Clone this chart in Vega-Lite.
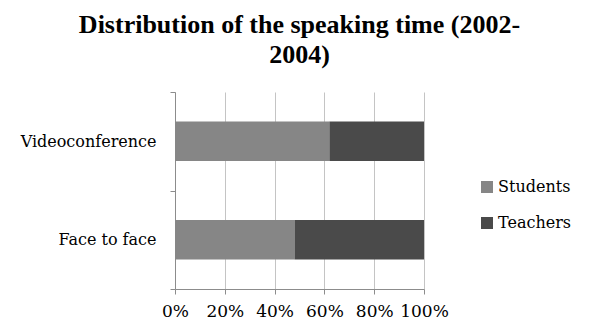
{
  "$schema": "https://vega.github.io/schema/vega-lite/v6.json",
  "width": 249,
  "height": 197,
  "autosize": {"type": "none"},
  "padding": {"left": 175, "top": 92, "right": 177, "bottom": 45},
  "background": "white",
  "title": {
    "text": ["Distribution of the speaking time (2002-", "2004)"],
    "font": "Liberation Serif",
    "fontSize": 26,
    "fontWeight": "bold",
    "color": "#000000",
    "anchor": "middle",
    "frame": "group",
    "offset": 16,
    "lineHeight": 30
  },
  "data": {
    "values": [
      {"mode": "Videoconference", "speaker": "Students", "share": 62},
      {"mode": "Videoconference", "speaker": "Teachers", "share": 38},
      {"mode": "Face to face", "speaker": "Students", "share": 48},
      {"mode": "Face to face", "speaker": "Teachers", "share": 52}
    ]
  },
  "mark": {"type": "bar", "height": {"band": 0.4}},
  "encoding": {
    "y": {
      "field": "mode",
      "type": "nominal",
      "sort": ["Videoconference", "Face to face"],
      "scale": {"paddingInner": 0, "paddingOuter": 0},
      "axis": {
        "title": null,
        "tickBand": "extent",
        "tickSize": 5,
        "labelPadding": 14,
        "labelFont": "DejaVu Serif",
        "labelFontSize": 16,
        "labelColor": "#000000",
        "domainColor": "#8c8c8c",
        "tickColor": "#8c8c8c",
        "grid": false
      }
    },
    "x": {
      "field": "share",
      "type": "quantitative",
      "stack": "normalize",
      "scale": {"domain": [0, 1], "nice": false},
      "axis": {
        "title": null,
        "format": ".0%",
        "values": [0, 0.2, 0.4, 0.6, 0.8, 1],
        "tickSize": 5,
        "labelPadding": 9,
        "labelFont": "DejaVu Serif",
        "labelFontSize": 17,
        "labelColor": "#000000",
        "domainColor": "#8c8c8c",
        "tickColor": "#8c8c8c",
        "grid": true,
        "gridColor": "#c4c4c4",
        "labelFlush": false,
        "labelOverlap": false
      }
    },
    "color": {
      "field": "speaker",
      "type": "nominal",
      "scale": {"domain": ["Students", "Teachers"], "range": ["#868686", "#4a4a4a"]},
      "legend": {
        "title": null,
        "orient": "none",
        "legendX": 304,
        "legendY": 87,
        "symbolType": "square",
        "symbolSize": 144,
        "symbolOpacity": 1,
        "symbolStrokeWidth": 0,
        "labelFont": "DejaVu Serif",
        "labelFontSize": 16,
        "labelColor": "#000000",
        "rowPadding": 20,
        "labelOffset": 3
      }
    }
  },
  "config": {
    "view": {"stroke": null},
    "axis": {"domainWidth": 1, "tickWidth": 1}
  }
}
